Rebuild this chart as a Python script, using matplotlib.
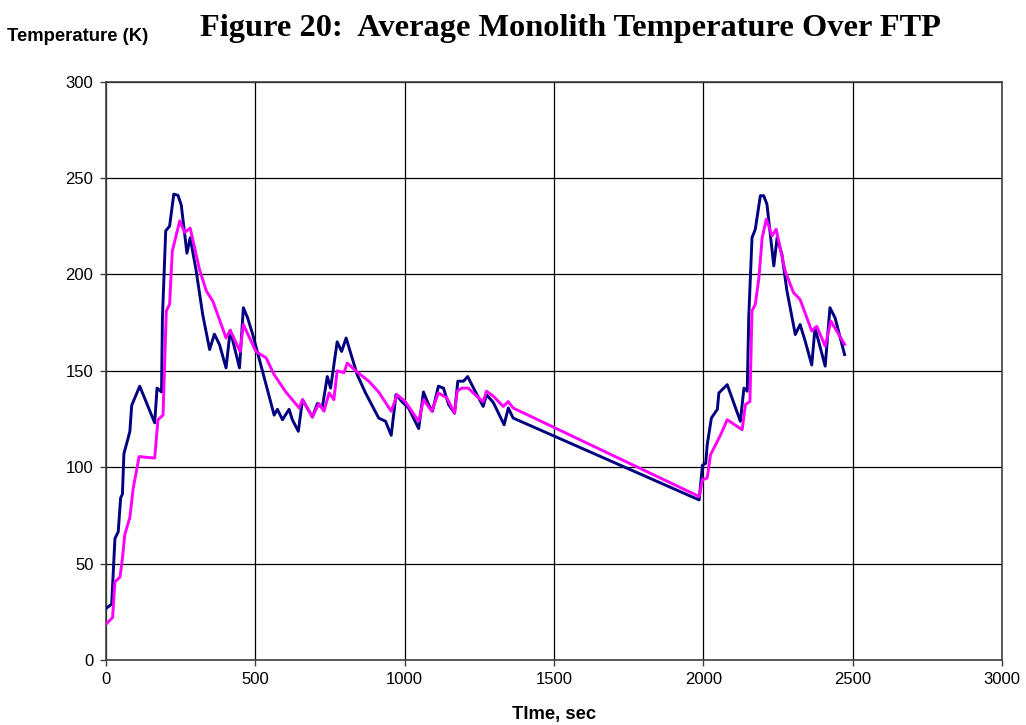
import matplotlib
matplotlib.use("Agg")
import matplotlib.pyplot as plt

# time (s) and temperature (K) for the two traces
tiempo_azul = [0, 19, 30, 41, 49, 55, 60, 74, 80, 86, 113, 163, 171, 186, 189, 200, 213, 227, 241, 252,
               271, 282, 302, 324, 347, 363, 380, 402, 416, 447, 460, 474, 491, 524, 563, 574, 591, 613, 624, 644,
               658, 691, 708, 724, 741, 752, 774, 789, 804, 841, 869, 913, 936, 955, 971, 991, 1013, 1047, 1063, 1080,
               1093, 1113, 1130, 1147, 1167, 1178, 1197, 1211, 1236, 1263, 1274, 1297, 1333, 1347, 1363,
               1986, 1997, 2008, 2013, 2027, 2047, 2052, 2080, 2124, 2136, 2147, 2152, 2163, 2174, 2191, 2202, 2213,
               2236, 2247, 2263, 2280, 2308, 2324, 2341, 2363, 2374, 2408, 2424, 2441, 2473]
temp_azul = [26.7, 29, 63, 66.5, 84, 86, 107, 115, 118.6, 132, 142, 123, 141, 139, 177.5, 222.6, 225, 241.6, 241, 236,
             211, 219, 201.8, 179, 161, 169, 163.6, 151.5, 171, 151.5, 182.7, 177.5, 169, 149.8, 127, 130, 124.6, 130, 124.6, 118.6,
             135, 126, 133, 130.7, 147, 141, 165, 160, 167, 148, 138.5, 125.5, 123.8, 116.5, 137.6, 134, 130.7, 120, 139, 132.5,
             129, 142, 141, 132.5, 128, 144.6, 144.6, 147, 139.4, 131.5, 137.6, 133.5, 122, 130.7, 125.5,
             83, 101, 102, 111.6, 125.5, 130, 138.5, 142.8, 123.8, 141, 139.4, 177.5, 219, 223.4, 240.8, 240.8, 236.4,
             204.4, 219, 210.4, 191.4, 168.8, 174, 165.4, 153, 172.3, 152.4, 182.7, 177.5, 158.4]

tiempo_mag = [2, 22, 30, 47, 55, 63, 80, 91, 111, 163, 174, 191, 202, 213, 222, 247, 263, 282, 313, 336,
              358, 402, 416, 449, 460, 502, 536, 563, 602, 647, 658, 691, 713, 730, 747, 763, 774, 797, 808, 836,
              880, 913, 955, 975, 1002, 1047, 1063, 1091, 1113, 1141, 1167, 1176, 1191, 1213, 1241, 1263, 1274, 1297,
              1330, 1347, 1363,
              1986, 1997, 2013, 2024, 2041, 2058, 2080, 2130, 2141, 2156, 2163, 2174, 2186, 2197, 2211, 2230, 2244,
              2274, 2302, 2324, 2363, 2380, 2408, 2427, 2473]
temp_mag = [18.9, 22, 40.5, 43, 52.7, 65, 74, 89, 105.5, 104.7, 124.6, 127, 181, 184.5, 212, 227.8, 221.7, 224, 202.6, 191.4,
            186, 167, 171, 160, 174, 160, 156.7, 148, 139, 130.7, 135, 126, 133, 129, 138.5, 135, 150, 149, 154, 150,
            144.6, 139, 129, 137.6, 134, 123.8, 135, 129, 138.5, 136, 128, 139.4, 141, 141, 136.8, 134, 139.4, 136.8,
            131.5, 134, 130.7,
            84.8, 93.4, 94.4, 106.4, 111.6, 116.8, 124.6, 119.4, 132.5, 134, 181, 184.5, 198, 219, 228.6, 220, 223.4,
            201.8, 190.5, 187, 170.6, 173, 162.8, 175.8, 163.7]

xticks = [0, 500, 1000, 1500, 2000, 2500, 3000]
yticks = [0, 50, 100, 150, 200, 250, 300]

fig = plt.figure(figsize=(10.26, 7.25), dpi=100)
ax = fig.add_axes([0.1033, 0.0897, 0.8733, 0.7978])

ax.plot(tiempo_azul, temp_azul, color="#000080", lw=2.1, zorder=3)
ax.plot(tiempo_mag, temp_mag, color="#FF00FF", lw=2.1, zorder=4)

ax.set_xlim(0, 3000)
ax.set_ylim(0, 300)
ax.set_xticks(xticks)
ax.set_yticks(yticks)
ax.grid(True, color="black", lw=0.9)
ax.set_axisbelow(True)
for s in ax.spines.values():
    s.set_color("#404040")
    s.set_linewidth(1.2)
ax.tick_params(direction="out", length=4, width=1, color="#404040", labelsize=12, pad=5)
for lab in ax.get_xticklabels() + ax.get_yticklabels():
    lab.set_fontfamily("Liberation Sans")

ax.set_xlabel("TIme, sec", fontfamily="Liberation Sans", fontweight="bold", fontsize=13.2, labelpad=13)
fig.text(0.007, 0.950, "Temperature (K)", fontfamily="Liberation Sans", fontweight="bold",
         fontsize=13.3, ha="left", va="center")
fig.text(0.556, 0.961, "Figure 20:  Average Monolith Temperature Over FTP", fontfamily="Liberation Serif",
         fontweight="bold", fontsize=23.3, ha="center", va="center")

fig.savefig("out.png", dpi=100)
